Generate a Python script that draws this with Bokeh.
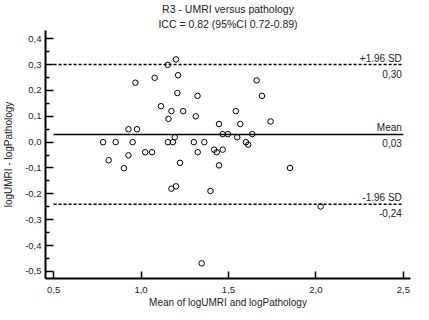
from bokeh.plotting import figure
from bokeh.models import Range1d, FixedTicker, CustomJSTickFormatter, Title, ColumnDataSource
from bokeh.embed import file_html
from bokeh.resources import INLINE
from bokeh.core.properties import value

# ---- texts ----
title_line1 = "R3 - UMRI versus pathology"
title_line2 = "ICC = 0.82 (95%CI 0.72-0.89)"
x_label = "Mean of logUMRI and logPathology"
y_label = "logUMRI - logPathology"

# ---- data (mean of the two methods, difference) ----
mean_vals = [1.200, 1.153, 1.212, 0.968, 1.078, 1.208, 1.323, 1.114, 1.174, 1.241,
             1.157, 1.313, 1.542, 1.446, 1.568, 0.928, 0.977, 1.467, 1.497, 1.193,
             1.550, 0.783, 0.855, 0.952, 1.154, 1.182, 1.302, 1.362, 1.600, 1.613,
             1.636, 1.418, 1.467, 1.433, 0.815, 0.928, 1.024, 1.063, 0.902, 1.223,
             1.324, 1.446, 1.174, 1.200, 1.397, 1.347, 1.661, 1.692, 1.741, 1.852,
             2.027]
diff_vals = [0.320, 0.299, 0.259, 0.230, 0.249, 0.190, 0.179, 0.139, 0.120, 0.120,
             0.090, 0.100, 0.120, 0.070, 0.070, 0.050, 0.050, 0.031, 0.031, 0.019,
             0.019, 0.000, 0.000, 0.000, 0.000, 0.000, 0.000, 0.000, 0.000, -0.010,
             0.031, -0.029, -0.029, -0.039, -0.070, -0.051, -0.039, -0.039, -0.101, -0.080,
             -0.039, -0.090, -0.180, -0.171, -0.189, -0.469, 0.239, 0.179, 0.080, -0.100,
             -0.249]

# ---- reference lines ----
limit_values = [0.30, -0.24]
limit_names = ["+1.96 SD", "-1.96 SD"]
limit_value_labels = ["0,30", "-0,24"]
mean_value = [0.03]
mean_name = ["Mean"]
mean_value_label = ["0,03"]

# ---- ticks ----
x_ticks = [0.5, 1.0, 1.5, 2.0, 2.5]
y_ticks = [-0.5, -0.4, -0.3, -0.2, -0.1, 0.0, 0.1, 0.2, 0.3, 0.4]
y_minor_ticks = [-0.45, -0.35, -0.25, -0.15, -0.05, 0.05, 0.15, 0.25, 0.35]

FONT = "Liberation Sans"
TXT = "#222222"

p = figure(width=413, height=310, output_backend="svg", toolbar_location=None,
           x_range=Range1d(0.4538, 2.541), y_range=Range1d(-0.5276, 0.432),
           min_border_left=39, min_border_right=3, min_border_top=0, min_border_bottom=0)
p.outline_line_color = None
p.grid.visible = False
p.background_fill_color = "white"
p.border_fill_color = "white"

# titles (p.title ends up outermost, the added one next to the plot)
p.title.text = title_line1
p.title.align = "center"
p.title.text_font = FONT
p.title.text_font_size = "10.5px"
p.title.text_font_style = "normal"
p.title.text_color = TXT
p.title.standoff = 0
t2 = Title(text=title_line2, align="center", text_font=FONT, text_font_size="10.5px",
           text_font_style="normal", text_color=TXT, standoff=2)
p.add_layout(t2, "above")

fmt = CustomJSTickFormatter(code="return tick.toFixed(1).replace('.', ',');")

xa = p.xaxis[0]
xa.ticker = FixedTicker(ticks=x_ticks)
xa.formatter = fmt
xa.axis_label = x_label
xa.major_tick_in = 7
xa.major_tick_out = 0
xa.minor_tick_in = 0
xa.minor_tick_out = 0
xa.major_label_standoff = 8
xa.axis_label_standoff = 1

ya = p.yaxis[0]
ya.ticker = FixedTicker(ticks=y_ticks, minor_ticks=y_minor_ticks)
ya.formatter = fmt
ya.axis_label = y_label
ya.major_tick_in = 8
ya.major_tick_out = 0
ya.minor_tick_in = 4
ya.minor_tick_out = 0
ya.major_label_standoff = 4
ya.axis_label_standoff = 8

for ax in (xa, ya):
    ax.axis_line_width = 2
    ax.axis_line_color = "black"
    ax.major_tick_line_width = 1.5
    ax.minor_tick_line_width = 1.5
    ax.major_tick_line_color = "black"
    ax.minor_tick_line_color = "black"
    ax.major_label_text_font = FONT
    ax.major_label_text_font_size = "9.5px"
    ax.major_label_text_color = TXT
    ax.axis_label_text_font = FONT
    ax.axis_label_text_font_size = "10px"
    ax.axis_label_text_font_style = "normal"
    ax.axis_label_text_color = TXT

x_start, x_end = x_ticks[0], x_ticks[-1]

lim_src = ColumnDataSource(dict(x0=[x_start] * len(limit_values), x1=[x_end] * len(limit_values),
                                y=limit_values, name=limit_names, lab=limit_value_labels))
mean_src = ColumnDataSource(dict(x0=[x_start], x1=[x_end], y=mean_value, name=mean_name, lab=mean_value_label))

p.segment(x0="x0", x1="x1", y0="y", y1="y", source=lim_src, line_color="black",
          line_width=1.5, line_dash="3 2")
p.segment(x0="x0", x1="x1", y0="y", y1="y", source=mean_src, line_color="black", line_width=1.5)

for src in (lim_src, mean_src):
    p.text(x="x1", y="y", text="name", source=src, text_align="right", text_baseline="middle",
           x_offset=-1.5, y_offset=-6.5, text_font=value(FONT), text_font_size="10px", text_color=TXT)
    p.text(x="x1", y="y", text="lab", source=src, text_align="right", text_baseline="middle",
           x_offset=-1.5, y_offset=9, text_font=value(FONT), text_font_size="10px", text_color=TXT)

pts = ColumnDataSource(dict(x=mean_vals, y=diff_vals))
p.scatter(x="x", y="y", source=pts, marker="circle", size=5.5, line_color="black",
          line_width=1, fill_color=None)

open("out.html", "w").write(file_html(p, INLINE))
